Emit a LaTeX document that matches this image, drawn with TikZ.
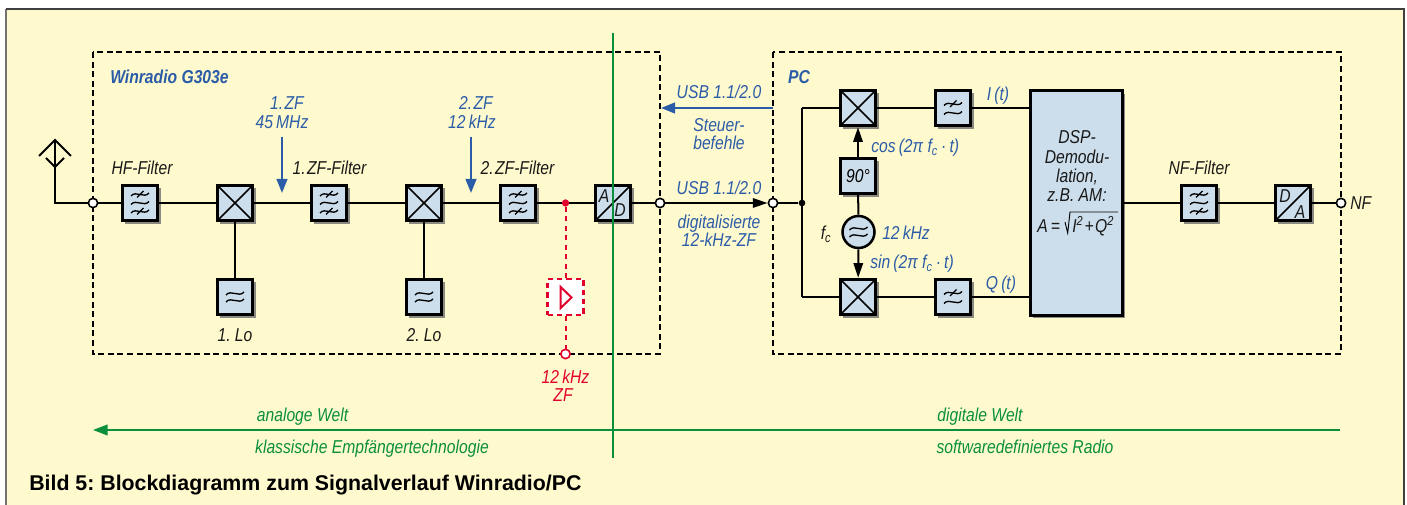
\documentclass[tikz,border=0pt]{standalone}
\usepackage{fontspec}
\setmainfont{Liberation Sans}[FakeStretch=0.84]
\newfontfamily\capfont{Liberation Sans}
\usetikzlibrary{arrows.meta,shadows}
\definecolor{bgc}{HTML}{FFFACD}
\definecolor{boxc}{HTML}{CCDEEB}
\definecolor{bluec}{HTML}{2B5CA8}
\definecolor{greenc}{HTML}{0A8F3C}
\definecolor{redc}{HTML}{E2002D}
\definecolor{shadc}{HTML}{8A8A80}
\newcommand{\lblsize}{\fontsize{14}{16}\selectfont}
\frenchspacing
\tikzset{
  x=0.75pt,y=-0.75pt,
  wire/.style={line width=1.5pt,black},
  dashframe/.style={line width=1.4pt,dash pattern=on 4.5pt off 2.7pt},
  blk/.style={draw=black,line width=2.25pt,fill=boxc,minimum size=26.5pt,inner sep=0pt,
    general shadow={fill=shadc,shadow xshift=2.2pt,shadow yshift=-2.2pt}},
  mixer/.style={blk,path picture={\draw[line width=1.2pt]
     (path picture bounding box.north west)--(path picture bounding box.south east)
     (path picture bounding box.north east)--(path picture bounding box.south west);}},
  conv/.style={blk,path picture={\draw[line width=1.2pt]
     (path picture bounding box.south west)--(path picture bounding box.north east);}},
  port/.style={circle,draw=black,fill=white,line width=1.2pt,minimum size=7pt,inner sep=0pt},
  jdot/.style={circle,fill=black,minimum size=5pt,inner sep=0pt},
  lbl/.style={font=\itshape\lblsize,inner sep=0pt,text=black!90,text height=10pt,text depth=0pt},
  blbl/.style={lbl,text=bluec},
  rlbl/.style={lbl,text=redc},
  glbl/.style={lbl,text=greenc},
  bluearrow/.style={line width=1.6pt,bluec,-{Triangle[length=10.5pt,width=8pt]}},
  blackarrow/.style={wire,-{Triangle[length=11pt,width=7pt]}},
  greenline/.style={line width=1.5pt,greenc},
  reddash/.style={redc,line width=1.5pt,dash pattern=on 3.7pt off 3.4pt},
  tl/.pic={\draw[line width=1pt] (-9,1.5) .. controls (-4,-4.5) and (4,4.5) .. (9,-1.5);},
  st/.pic={\draw[line width=1pt] (-3,3) -- (3.5,-3.5);},
  lpfthree/.pic={\pic at (0,-8.5) {tl};\pic at (0,0) {tl};\pic at (0,8.5) {tl};\pic at (0,-8.5) {st};\pic at (0,8.5) {st};},
  lpftwo/.pic={\pic at (0,-4) {tl};\pic at (0,5) {tl};\pic at (0,-4) {st};},
  twotl/.pic={\pic at (0,-3.5) {tl};\pic at (0,3.5) {tl};},
}
\begin{document}
\begin{tikzpicture}
\useasboundingbox (0,0) rectangle (1407,505);
% page background and frame
\fill[white] (0,0) rectangle (1407,505);
\fill[bgc] (6,9) rectangle (1404,505);
\draw[line width=1.6pt,gray!90!black] (6,505) -- (6,9);
\draw[line width=1.6pt,black!75] (6,9) -- (1404,9) -- (1404,505);
% dashed frames
\draw[dashframe] (93,52) rectangle (660,354);
\draw[dashframe] (773,52) rectangle (1341,354);

% blocks
\node[blk] (hf) at (140,203) {};
\node[mixer] (m1) at (235,203) {};
\node[blk] (lo1) at (235,297) {};
\node[blk] (zf1) at (329,203) {};
\node[mixer] (m2) at (424,203) {};
\node[blk] (lo2) at (424,297) {};
\node[blk] (zf2) at (518,203) {};
\node[conv] (ad) at (613,203) {};
\node[mixer] (mi) at (858,108) {};
\node[mixer] (mq) at (858,297) {};
\node[blk] (li) at (953,108) {};
\node[blk] (lq) at (953,297) {};
\node[blk,font=\itshape\lblsize] (ph) at (858,176) {90°};
\node[circle,draw=black,fill=boxc,line width=1.9pt,minimum size=24pt,inner sep=0pt] (osc) at (858.5,232) {};
\node[blk,minimum width=69pt,minimum height=168.5pt] (dsp) at (1076.5,203) {};
\node[blk] (nf) at (1199,203) {};
\node[conv] (da) at (1293,203) {};
\node[draw=redc,fill=white,line width=2.2pt,dash pattern=on 4pt off 3pt,minimum size=27pt,inner sep=0pt] (amp) at (565.5,297) {};
% symbols
\pic at (hf) {lpfthree};
\pic at (zf1) {lpfthree};
\pic at (zf2) {lpfthree};
\pic at (nf) {lpfthree};
\pic at (lo1) {twotl};
\pic at (lo2) {twotl};
\pic at (osc) {twotl};
\pic at (li) {lpftwo};
\pic at (lq) {lpftwo};
\draw[redc,line width=1.5pt,line join=miter] (560.7,287) -- (560.7,308) -- (571.5,297.5) -- cycle;

% ports and junctions
\coordinate (anttop) at (55,140);
\coordinate (antl) at (39,156);
\coordinate (antr) at (71,156);
\coordinate (antil) at (46,158);
\coordinate (antir) at (64,158);
\coordinate (antv) at (55,167);
\coordinate (antb) at (55,203);
\node[port] (pa) at (93,203) {};
\node[port] (pb) at (660,203) {};
\node[port] (pc) at (773,203) {};
\node[port] (pd) at (1341,203) {};
\node[port,draw=redc] (pe) at (565.5,354) {};
\node[jdot] (jb) at (802,203) {};
\node[circle,fill=redc,minimum size=5.5pt,inner sep=0pt] (jr) at (565.5,203) {};
\coordinate (bi) at (802,108);
\coordinate (bq) at (802,297);

% wires
\draw[wire] (antl) -- (anttop) -- (antr);
\draw[wire] (antil) -- (antv) -- (antir);
\draw[wire] (anttop) -- (antb) -- (pa);
\draw[wire] (pa) -- (hf);
\draw[wire] (hf) -- (m1);
\draw[wire] (m1) -- (zf1);
\draw[wire] (zf1) -- (m2);
\draw[wire] (m2) -- (zf2);
\draw[wire] (zf2) -- (jr) -- (ad);
\draw[wire] (ad) -- (pb);
\draw[wire] (m1) -- (lo1);
\draw[wire] (m2) -- (lo2);
\draw[blackarrow] (pb) -- (pc);
\draw[wire] (pc) -- (jb);
\draw[wire] (bi) -- (bq);
\draw[wire] (bi) -- (mi);
\draw[wire] (bq) -- (mq);
\draw[wire] (mi) -- (li);
\draw[wire] (mq) -- (lq);
\draw[wire] (li.east) -- (dsp.west |- li.east);
\draw[wire] (lq.east) -- (dsp.west |- lq.east);
\draw[blackarrow] (ph) -- (mi);
\draw[wire] (ph) -- (osc);
\draw[blackarrow] (osc) -- (mq);
\draw[wire] (dsp.east) -- (nf);
\draw[wire] (nf) -- (da);
\draw[wire] (da) -- (pd);
\draw[reddash] (jr) -- (amp);
\draw[reddash] (amp) -- (pe);

% blue arrows
\coordinate (a1s) at (282,137);
\coordinate (a1e) at (282,193);
\coordinate (a2s) at (471,137);
\coordinate (a2e) at (471,193);
\coordinate (a3s) at (773,108);
\coordinate (a3e) at (661,108);
\draw[bluearrow] (a1s) -- (a1e);
\draw[bluearrow] (a2s) -- (a2e);
\draw[bluearrow] (a3s) -- (a3e);

% labels
\node[blbl,font=\bfseries\itshape\lblsize,anchor=west] (tw) at (110,77) {Winradio G303e};
\node[lbl] (thf) at (142,168) {HF-Filter};
\node[lbl] (tz1) at (329.5,168) {1.\kern1pt ZF-Filter};
\node[lbl] (tz2) at (517.5,168) {2.\kern1pt ZF-Filter};
\node[lbl] (tl1) at (235,335) {1. Lo};
\node[lbl] (tl2) at (424,335) {2. Lo};
\node[blbl] (tb1) at (287,103) {1.\kern1pt ZF};
\node[blbl] (tb2) at (282,122) {45\,MHz};
\node[blbl] (tb3) at (476,103) {2.\kern1pt ZF};
\node[blbl] (tb4) at (472,122) {12\,kHz};
\node[lbl] (ta) at (604,196) {A};
\node[lbl] (td) at (620,210) {D};
\node[rlbl] (tr1) at (565.5,377) {12\,kHz};
\node[rlbl] (tr2) at (563,395) {ZF};
\node[blbl] (tu1) at (719,92) {USB 1.1/2.0};
\node[blbl] (ts1) at (719,125) {Steuer-};
\node[blbl] (ts2) at (719,143) {befehle};
\node[blbl] (tu2) at (719,188) {USB 1.1/2.0};
\node[blbl] (td1) at (719,222) {digitalisierte};
\node[blbl] (td2) at (719,240) {12-kHz-ZF};
\node[blbl,font=\bfseries\itshape\lblsize] (tpc) at (799,77) {PC};
\node[blbl] (tit) at (998,94) {I\,(t)};
\node[blbl] (tqt) at (1001,283) {Q\,(t)};
\node[blbl,anchor=west] (tcos) at (871,146) {cos\,(2π f\textsubscript{c}\,·\,t)};
\node[blbl,anchor=west] (tsin) at (870,262) {sin\,(2π f\textsubscript{c}\,·\,t)};
\node[lbl] (tfc) at (826,233) {f\textsubscript{c}};
\node[blbl,anchor=west] (tkhz) at (882,233) {12\,kHz};
\node[lbl] (d1) at (1077,137) {DSP-};
\node[lbl] (d2) at (1077,157) {Demodu-};
\node[lbl] (d3) at (1077,176) {lation,};
\node[lbl] (d4) at (1077,195) {z.B. AM:};
\node[lbl,anchor=west] (d5) at (1037,226) {A\,=};
\node[lbl,anchor=west] (d6) at (1072,226) {I\textsuperscript{2}\kern1pt+\kern1pt Q\textsuperscript{2}};
\coordinate (r1) at (1065,222);
\coordinate (r2) at (1067.7,233);
\coordinate (r3) at (1070,212);
\coordinate (r4) at (1118,212);
\draw[line width=.7pt] (r1) -- (r2) -- (r3) -- (r4);
\node[lbl] (tnf) at (1199,168) {NF-Filter};
\node[lbl] (tda1) at (1285,196) {D};
\node[lbl] (tda2) at (1300,212) {A};
\node[lbl,anchor=west] (tnfo) at (1350,203) {NF};

% green world axis
\coordinate (gt) at (613,33);
\coordinate (gb) at (613,458);
\coordinate (gr) at (1340,430);
\coordinate (gl) at (93,430);
\draw[greenline] (gt) -- (gb);
\draw[greenline,-{Triangle[length=11pt,width=8pt]}] (gr) -- (gl);
\node[glbl] (g1) at (302.5,415) {analoge Welt};
\node[glbl] (g2) at (372,447) {klassische Empfängertechnologie};
\node[glbl] (g3) at (980,415) {digitale Welt};
\node[glbl] (g4) at (1025,447) {softwaredefiniertes Radio};
\node[anchor=west,inner sep=0pt,font=\capfont\bfseries\fontsize{16}{18}\selectfont] (cap) at (29,485) {Bild 5: Blockdiagramm zum Signalverlauf Winradio/PC};
\end{tikzpicture}
\end{document}
